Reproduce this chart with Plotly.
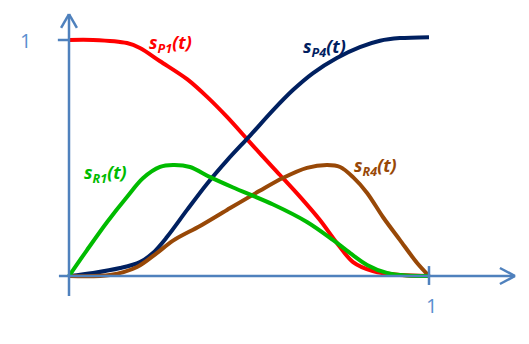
import plotly.graph_objects as go

# Curve samples: time t in [0, 1] and the four signal values
t_p1 = [0.0, 0.067, 0.161, 0.197, 0.253, 0.328, 0.383, 0.439, 0.497, 0.536, 0.586, 0.642, 0.697, 0.744, 0.789, 0.844, 0.919, 1.0]
s_p1 = [1.0, 1.0, 0.987, 0.966, 0.910, 0.834, 0.760, 0.674, 0.576, 0.510, 0.428, 0.335, 0.237, 0.140, 0.059, 0.021, 0.004, 0.0]

t_p4 = [0.0, 0.067, 0.142, 0.197, 0.233, 0.272, 0.328, 0.383, 0.439, 0.503, 0.567, 0.622, 0.678, 0.744, 0.808, 0.864, 0.919, 1.0]
s_p4 = [0.0, 0.013, 0.034, 0.059, 0.097, 0.165, 0.280, 0.390, 0.490, 0.595, 0.703, 0.788, 0.860, 0.924, 0.970, 0.997, 1.008, 1.012]

t_r1 = [0.0, 0.050, 0.106, 0.161, 0.206, 0.253, 0.289, 0.336, 0.392, 0.456, 0.567, 0.661, 0.733, 0.781, 0.828, 0.883, 0.939, 1.0]
s_r1 = [0.0, 0.110, 0.229, 0.335, 0.415, 0.462, 0.470, 0.462, 0.419, 0.375, 0.303, 0.229, 0.153, 0.097, 0.047, 0.013, 0.002, 0.0]

t_r4 = [0.0, 0.114, 0.189, 0.244, 0.289, 0.364, 0.439, 0.531, 0.594, 0.661, 0.717, 0.753, 0.789, 0.828, 0.872, 0.919, 0.967, 1.0]
s_r4 = [0.0, 0.004, 0.038, 0.097, 0.150, 0.212, 0.280, 0.362, 0.415, 0.458, 0.470, 0.462, 0.419, 0.352, 0.250, 0.153, 0.055, 0.0]

tick_labels = ["1", "1"]

RED = "#FF0000"
NAVY = "#002060"
GREEN = "#00BB00"
BROWN = "#984807"
AXIS = "#4F81BD"
TICK_TEXT = "#5B8FD0"

fig = go.Figure()

series = [
    (t_p1, s_p1, RED),
    (t_p4, s_p4, NAVY),
    (t_r4, s_r4, BROWN),
    (t_r1, s_r1, GREEN),
]
for tx, sy, col in series:
    fig.add_trace(go.Scatter(
        x=tx, y=sy, mode="lines",
        line=dict(color=col, width=4, shape="spline", smoothing=0.9),
        hoverinfo="skip", showlegend=False,
    ))

# Hand-drawn style axes with open arrowheads
shapes = []
def seg(x0, y0, x1, y1, w=2.5):
    shapes.append(dict(type="line", xref="x", yref="y", x0=x0, y0=y0, x1=x1, y1=y1,
                       line=dict(color=AXIS, width=w)))

# y axis + arrow
seg(0, -0.085, 0, 1.110)
seg(0, 1.110, -0.022, 1.051)
seg(0, 1.110, 0.022, 1.051)
# x axis + arrow
seg(-0.028, 0, 1.239, 0)
seg(1.239, 0, 1.197, 0.034)
seg(1.239, 0, 1.197, -0.034)
# ticks at 1
seg(1.0, 0.042, 1.0, -0.038)
seg(-0.031, 1.0, 0.0, 1.0)

fig.update_layout(shapes=shapes)

labels = [
    ("s", "P1", 0.281, 0.987, RED),
    ("s", "P4", 0.711, 0.970, NAVY),
    ("s", "R1", 0.100, 0.436, GREEN),
    ("s", "R4", 0.850, 0.462, BROWN),
]
annotations = []
for base, sub, x, y, col in labels:
    annotations.append(dict(
        x=x, y=y, xref="x", yref="y", showarrow=False,
        text=f"<b><i>{base}<sub>{sub}</sub>(t)</i></b>",
        font=dict(family="Open Sans", size=18, color=col),
        xanchor="center", yanchor="middle",
    ))
annotations.append(dict(x=-0.122, y=1.0, xref="x", yref="y", showarrow=False,
                        text=tick_labels[1], font=dict(family="Open Sans", size=20, color=TICK_TEXT),
                        xanchor="center", yanchor="middle"))
annotations.append(dict(x=1.008, y=-0.127, xref="x", yref="y", showarrow=False,
                        text=tick_labels[0], font=dict(family="Open Sans", size=20, color=TICK_TEXT),
                        xanchor="center", yanchor="middle"))

fig.update_layout(
    annotations=annotations,
    width=529, height=344,
    margin=dict(l=0, r=0, t=0, b=0),
    paper_bgcolor="white", plot_bgcolor="white",
    xaxis=dict(range=[-69/360, 460/360], visible=False, fixedrange=True),
    yaxis=dict(range=[-68/236, 276/236], visible=False, fixedrange=True),
)

fig.write_html("out.html", config={"displayModeBar": False})
